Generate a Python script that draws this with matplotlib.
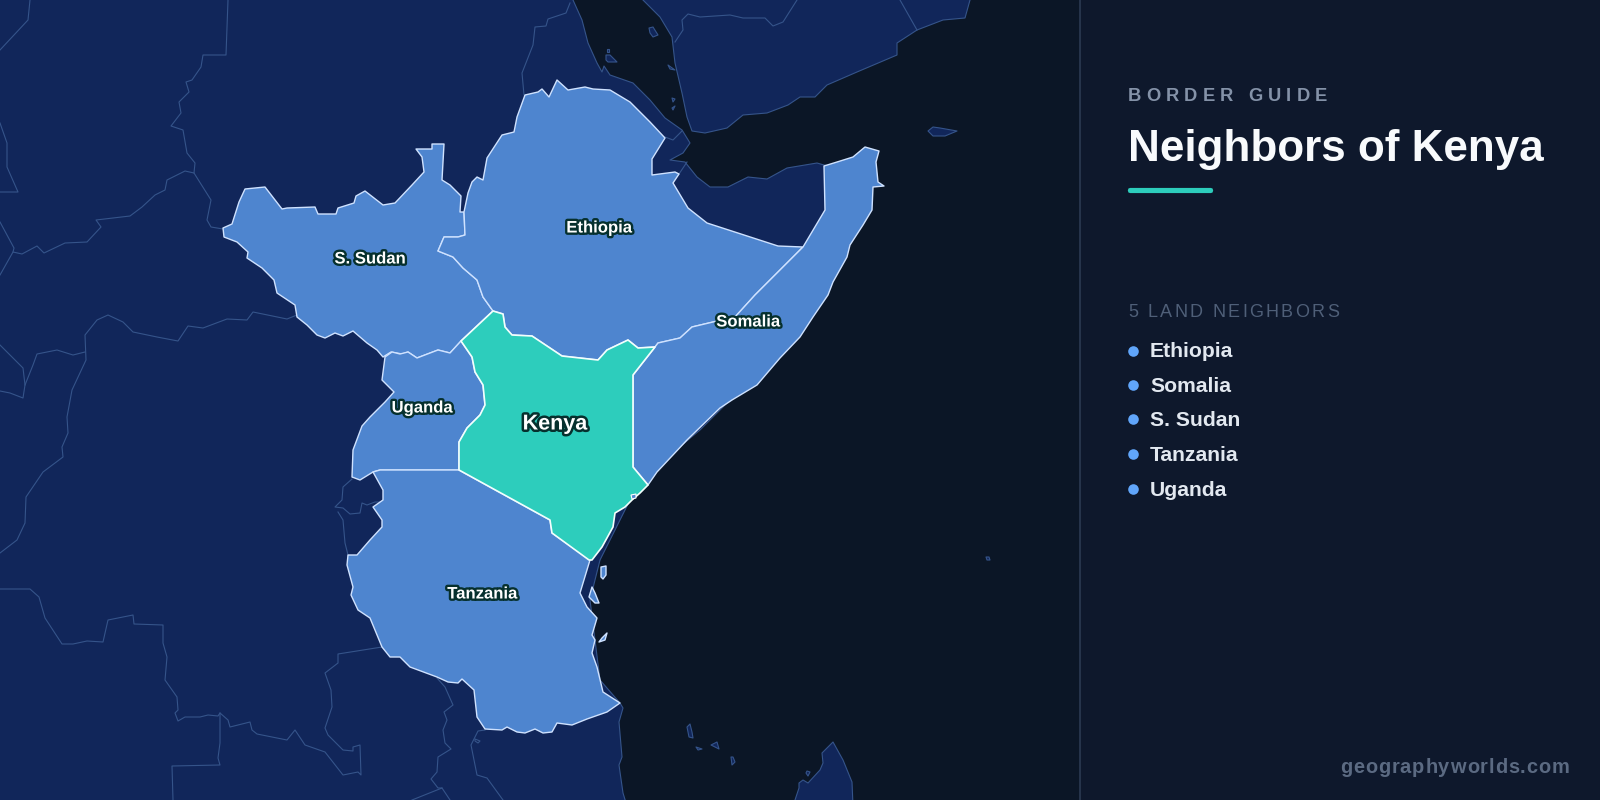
import matplotlib
matplotlib.use("Agg")
import matplotlib.pyplot as plt
import matplotlib.patheffects as pe
from matplotlib.patches import FancyBboxPatch, Rectangle
from matplotlib.text import Text

plt.rcParams['font.family'] = ['Liberation Sans', 'DejaVu Sans']

# ---- Map shapes (map units) ----
africa = [(-6,-6),(571,-6),(573,0),(582,20),(588,43),(597,63),(602,72),(604,66),(610,75),(633,83),(650,100),(665,118),(682,130),
          (690,143),(683,153),(670,160),(685,162),(697,177),(710,187),(728,187),(748,177),(767,179),(787,168),(817,163),(824,165),
          (860,170),(860,220),(800,330),(700,430),(640,480),(600,560),(590,600),(600,680),(620,703),(623,708),(619,722),
          (622,757),(619,765),(623,793),(627,806),(-6,806)]
arabia = [(637,-6),(643,0),(660,17),(672,37),(675,63),(682,93),(687,117),(692,131),(705,133),(727,128),(743,115),(767,113),(788,105),
          (800,97),(815,97),(827,85),(857,72),(897,55),(897,43),(917,30),(943,20),(965,18),(970,0),(972,-6)]
socotra = [(928,131),(933,127),(940,128),(957,131),(945,136),(933,136)]
madagascar = [(793,806),(799,788),(799,783),(803,780),(808,783),(820,770),(823,763),(822,753),(833,742),(843,760),(852,782),(853,806)]
small_islands = [
    [(606,55),(610,55),(615,60),(617,62),(608,62),(606,60)],
    [(607,49),(609,49),(609,52),(607,52)],
    [(649,28),(653,27),(658,35),(653,37),(650,33)],
    [(668,65),(675,70),(670,69)],
    [(672,98),(675,99),(673,102)],
    [(672,108),(675,106),(673,110)],
    [(687,727),(690,724),(692,732),(693,738),(689,737)],
    [(696,747),(702,749),(698,750)],
    [(711,745),(717,742),(719,749),(715,747)],
    [(731,757),(733,757),(735,762),(732,765)],
    [(807,771),(810,772),(808,776),(806,773)],
    [(986,557),(989,557),(990,560),(987,560)],
    [(475,739),(480,741),(478,743),(475,741)],
]
inner_borders = [
    [(30,0),(28,20),(0,50)],
    [(228,0),(226,55),(203,55),(201,67),(192,80),(186,82),(189,92),(179,102),(181,113),(171,126),(183,130),(187,153),(195,163),
     (194,173),(211,200),(207,220),(211,227),(223,229)],
    [(194,173),(185,171),(167,180),(165,190),(155,195),(142,207),(130,216),(96,220),(101,227),(87,242),(65,243),(44,253),(37,246),
     (22,254),(13,252),(0,275)],
    [(0,123),(7,143),(7,167),(18,192),(0,192)],
    [(0,222),(14,248),(13,252)],
    [(570,3),(566,13),(548,19),(546,26),(535,27),(533,45),(522,73),(524,95)],
    [(297,315),(287,319),(253,312),(247,320),(227,319),(203,328),(188,326),(178,341),(157,337),(133,332),(123,322),(108,315),(97,320),
     (85,335),(86,360),(72,390),(67,417),(68,433),(62,447),(63,457),(43,472),(26,497),(25,523),(17,540),(0,553)],
    [(85,352),(73,355),(57,350),(37,354),(33,365),(25,385),(23,398),(10,393),(0,391)],
    [(0,345),(23,368),(25,385)],
    [(352,479),(343,487),(342,500),(335,507),(343,508),(350,514),(360,513),(362,503),(367,505),(375,502),(383,502)],
    [(338,512),(343,520),(345,543),(348,555)],
    [(0,589),(30,589),(39,597),(45,618),(62,644),(73,644),(87,641),(103,642),(108,620),(133,615),(134,624),(163,625),(163,643),(167,657),
     (165,680),(177,697),(178,710),(175,713),(178,721),(185,717),(200,717),(208,715),(218,716),(220,713),(228,720),(230,727),(250,722),
     (252,730),(257,734),(287,740),(295,730),(305,745),(325,752),(343,775),(358,772),(361,775),(360,745),(353,747),(353,751),(343,750),
     (328,735),(325,728),(332,707),(331,690),(325,673),(338,663),(338,654),(382,647)],
    [(220,713),(220,743),(218,758),(220,765),(172,766),(173,800)],
    [(437,678),(445,687),(453,705),(444,712),(447,720),(443,730),(445,743),(451,749),(438,757),(437,772),(431,779),(438,788),(442,788),(450,800)],
    [(412,800),(442,788)],
    [(485,730),(478,731),(471,745),(477,775),(487,778),(503,800)],
    [(675,42),(683,30),(682,20),(688,14),(700,17),(730,15),(743,18),(765,18),(773,26),(783,22),(797,0)],
    [(900,0),(917,30)],
    [(665,137),(673,140),(682,131)],
    [(679,174),(687,162)],
]
kenya = [(493,311),(503,314),(505,327),(512,335),(532,336),(562,356),(598,360),(607,350),(628,340),(638,348),(655,347),(633,375),(633,467),
         (648,485),(640,493),(632,500),(625,507),(615,513),(613,527),(602,547),(592,560),(589,560),(552,533),(550,520),(459,470),(459,442),
         (467,428),(480,415),(485,405),(483,385),(475,372),(472,357),(461,341)]
south_sudan = [(223,228),(232,224),(239,202),(245,189),(265,187),(282,209),(287,208),(315,207),(318,214),(336,214),(338,208),(354,203),(356,196),
               (365,191),(383,205),(395,203),(412,185),(424,172),(422,157),(416,149),(432,149),(432,144),(444,144),(442,180),(450,185),(461,196),
               (460,212),(464,212),(465,235),(458,237),(444,237),(438,251),(453,257),(463,268),(477,280),(483,297),(493,311),(461,341),(450,353),
               (438,350),(417,358),(408,352),(402,354),(391,352),(383,357),(377,350),(367,343),(353,331),(343,336),(335,333),(325,338),(317,335),
               (307,325),(297,317),(295,305),(277,293),(274,280),(262,268),(247,258),(248,252),(237,242),(224,237)]
ethiopia = [(465,235),(464,212),(468,193),(472,182),(477,177),(483,180),(487,158),(502,135),(514,132),(517,117),(525,95),(538,92),(542,89),
            (549,97),(557,80),(568,90),(585,87),(593,89),(610,90),(630,102),(650,122),(665,138),(652,159),(652,175),(675,172),(679,174),(673,183),
            (688,208),(707,223),(778,246),(803,247),(755,295),(735,317),(713,322),(692,327),(680,338),(658,343),(655,347),(638,348),(628,340),
            (607,350),(598,360),(562,356),(532,336),(512,335),(505,327),(503,314),(493,311),(483,297),(477,280),(463,268),(453,257),(438,251),
            (444,237),(458,237)]
somalia = [(633,375),(655,347),(658,343),(680,338),(692,327),(713,322),(735,317),(755,295),(803,247),(825,210),(824,166),(837,162),(853,157),
           (865,147),(879,151),(876,162),(878,182),(884,186),(873,187),(872,210),(863,225),(850,245),(847,257),(833,282),(828,295),(813,317),
           (800,337),(780,358),(757,385),(732,400),(720,408),(687,440),(657,472),(648,485),(633,467)]
uganda = [(461,341),(450,353),(438,350),(417,358),(408,352),(400,354),(392,352),(385,357),(382,380),(394,392),(385,402),(370,417),(362,426),
          (353,450),(352,477),(360,480),(373,472),(380,470),(459,470),(459,442),(467,428),(480,415),(485,405),(483,385),(475,372),(472,357)]
tanzania = [(459,470),(380,470),(373,472),(383,490),(383,500),(373,507),(382,520),(382,527),(370,540),(357,555),(348,555),(347,565),(353,587),
            (351,595),(358,610),(370,618),(382,647),(390,657),(400,657),(410,667),(437,677),(448,682),(458,683),(462,679),(474,690),(477,717),
            (485,729),(502,730),(507,727),(517,732),(525,733),(535,729),(543,733),(552,732),(557,723),(572,725),(587,719),(607,712),(620,703),
            (603,692),(597,667),(592,653),(595,640),(592,635),(597,618),(587,607),(580,593),(590,560),(552,533),(550,520)]
tz_islands = [
    [(601,567),(606,566),(606,575),(603,579),(601,577)],
    [(592,587),(595,593),(599,603),(595,603),(589,597)],
    [(607,633),(605,640),(599,642),(602,638)],
]
mombasa = [(631,495),(636,494),(636,498),(632,499)]
neighbor_shapes = [south_sudan, ethiopia, somalia, uganda, tanzania]

map_labels = ["Ethiopia", "S. Sudan", "Somalia", "Uganda", "Tanzania"]
map_label_x = [599, 370, 748, 422, 482]
map_label_y = [228, 259, 322, 408, 594]
focus_label = "Kenya"
focus_xy = (555, 424)

eyebrow = "BORDER GUIDE"
title = "Neighbors of Kenya"
list_heading = "5 LAND NEIGHBORS"
neighbor_list = ["Ethiopia", "Somalia", "S. Sudan", "Tanzania", "Uganda"]
list_y = [351, 385, 419, 454, 489]
list_baseline = [357, 392, 426, 461, 496]
watermark = "geographyworlds.com"

SEA = "#0b1626"; PANEL = "#0e182c"; LAND = "#11265a"; LAND_EDGE = "#35548a"
NEIGHBOR = "#4e85cf"; NEIGHBOR_EDGE = "#cfe2ff"; FOCUS = "#2dcdbc"


class SpacedText(Text):
    """Single text artist drawn with extra letter spacing (in pixels)."""
    def __init__(self, x, y, s, spacing=0, **kw):
        super().__init__(x, y, s, **kw)
        self._spacing = spacing

    def draw(self, renderer):
        s = self.get_text()
        x0, y0 = self.get_position()
        fp = self.get_fontproperties()
        def w(t):
            return renderer.get_text_width_height_descent(t, fp, False)[0]
        bar = w("|")
        for i, ch in enumerate(s):
            if ch == " ":
                continue
            dx = (w(s[:i] + "|") - bar if i else 0) + i * self._spacing
            t = Text(x0 + dx, y0, ch, color=self.get_color(), fontproperties=fp, va=self.get_va(), ha="left")
            t.set_figure(self.get_figure())
            t.set_transform(self.get_transform())
            t.draw(renderer)


fig = plt.figure(figsize=(16, 8), dpi=100, facecolor=SEA)
ax = fig.add_axes([0, 0, 1, 1])
ax.set_xlim(0, 1600)
ax.set_ylim(800, 0)
ax.axis("off")

ax.add_patch(Rectangle((0, 0), 1600, 800, fc=SEA, ec="none", zorder=0))

for shape in [africa, arabia, socotra, madagascar] + small_islands:
    xs, ys = zip(*shape)
    ax.fill(xs, ys, fc=LAND, ec=LAND_EDGE, lw=0.8, zorder=1, joinstyle="round")
for line in inner_borders:
    xs, ys = zip(*line)
    ax.plot(xs, ys, color=LAND_EDGE, lw=0.8, zorder=2, solid_joinstyle="round")
for shape in neighbor_shapes + tz_islands:
    xs, ys = zip(*shape)
    ax.fill(xs, ys, fc=NEIGHBOR, ec=NEIGHBOR_EDGE, lw=1.0, zorder=3, joinstyle="round")
xs, ys = zip(*kenya)
ax.fill(xs, ys, fc=FOCUS, ec="#f2fffd", lw=1.2, zorder=4, joinstyle="round")
xs, ys = zip(*mombasa)
ax.fill(xs, ys, fc=NEIGHBOR, ec="white", lw=0.8, zorder=5)

halo = [pe.withStroke(linewidth=3.4, foreground="#06302e")]
for name, x, y in zip(map_labels, map_label_x, map_label_y):
    ax.text(x, y, name, ha="center", va="center", fontsize=12, fontweight="bold", color="white",
            path_effects=halo, zorder=6)
ax.text(*focus_xy, focus_label, ha="center", va="center", fontsize=15.5, fontweight="bold", color="white",
        path_effects=[pe.withStroke(linewidth=3.6, foreground="#06302e")], zorder=6)

# side panel
ax.add_patch(Rectangle((1080, 0), 520, 800, fc=PANEL, ec="none", zorder=7))
ax.plot([1080, 1080], [0, 800], color="#2b3a52", lw=1.2, zorder=8)

ax.add_artist(SpacedText(1128, 101, eyebrow, spacing=5.1, color="#8492a8", fontsize=13.2, fontweight="bold",
                         va="baseline", zorder=9))
ax.text(1128, 161, title, color="#f8fafc", fontsize=31.7, fontweight="bold", va="baseline", ha="left", zorder=9)
ax.add_patch(FancyBboxPatch((1130, 190), 81, 1, boxstyle="round,pad=0,rounding_size=0.5", mutation_aspect=1,
                            fc=FOCUS, ec=FOCUS, lw=3, zorder=9))
ax.add_artist(SpacedText(1128, 317, list_heading, spacing=2.3, color="#4f5f78", fontsize=13, va="baseline", zorder=9))
ax.scatter([1133] * len(list_y), list_y, s=58, color="#60a5fa", linewidths=0, zorder=9)
for name, y in zip(neighbor_list, list_baseline):
    ax.text(1150, y, name, color="#e2e8f0", fontsize=15.2, fontweight="bold", va="baseline", ha="left", zorder=9)
ax.add_artist(SpacedText(1340, 773, watermark, spacing=0.9, color="#5b6a82", fontsize=14.4, fontweight="bold",
                         va="baseline", zorder=9))

fig.savefig("out.png", dpi=100, facecolor=fig.get_facecolor())
